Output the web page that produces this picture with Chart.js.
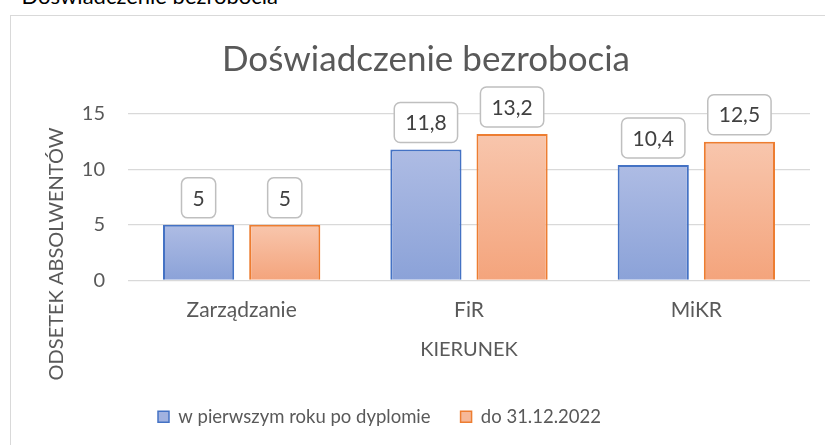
<!DOCTYPE html>
<html lang="pl">
<head>
<meta charset="utf-8">
<title>Doświadczenie bezrobocia</title>
<script src="https://cdn.jsdelivr.net/npm/chart.js@4"></script>
<style>
    html, body { margin: 0; padding: 0; background: #fff; overflow: hidden; }
    body { width: 825px; height: 445px; position: relative; font-family: Lato, sans-serif; }
    .caption { position: absolute; left: 0; top: -18px; width: 278px; text-align: right; font-size: 22px; color: #000; white-space: nowrap; overflow: hidden; }
    .frame { position: absolute; left: 10px; top: 15px; width: 900px; height: 500px; border-top: 1.5px solid #d9d9d9; border-left: 1.5px solid #d9d9d9; }
    .chart-box { position: absolute; left: 0; top: 0; width: 825px; height: 445px; }
</style>
</head>
<body>
<div class="caption">Doświadczenie bezrobocia</div>
<div class="frame"></div>
<div class="chart-box"><canvas id="unemploymentChart"></canvas></div>

<script>
// Chart data
const categories = ['Zarządzanie', 'FiR', 'MiKR'];
const seriesNames = ['w pierwszym roku po dyplomie', 'do 31.12.2022'];
const firstYearValues = [5, 11.8, 10.4];
const until2022Values = [5, 13.2, 12.5];
const yTickMin = 0;
const yTickMax = 15;
const yTickStep = 5;

const chartTitle = 'Doświadczenie bezrobocia';
const xAxisTitle = 'KIERUNEK';
const yAxisTitle = 'ODSETEK ABSOLWENTÓW';

const FONT = 'Lato, "Open Sans", sans-serif';
const TEXT_GREY = '#595959';

// top / bottom colours of each bar gradient
const barShades = [
    { top: '#aebce4', bottom: '#8ba2d8', border: '#4472c4', legend: '#a1b2e0' },
    { top: '#f8c6ad', bottom: '#f4a47c', border: '#ed7d31', legend: '#f6b898' }
];

function barGradient(shade) {
    return function (context) {
        const chart = context.chart;
        const y = chart.scales.y;
        if (!y || context.type !== 'data') return shade.legend;
        const top = y.getPixelForValue(context.raw);
        const bottom = y.getPixelForValue(0);
        if (!isFinite(top) || !isFinite(bottom) || top === bottom) return shade.legend;
        const g = chart.ctx.createLinearGradient(0, top, 0, bottom);
        g.addColorStop(0, shade.top);
        g.addColorStop(1, shade.bottom);
        return g;
    };
}

// Value labels in rounded boxes above each bar
const boxLabels = {
    id: 'boxLabels',
    afterDatasetsDraw(chart) {
        const ctx = chart.ctx;
        ctx.save();
        ctx.font = '21px ' + FONT;
        ctx.textAlign = 'center';
        ctx.textBaseline = 'middle';
        chart.data.datasets.forEach((ds, i) => {
            chart.getDatasetMeta(i).data.forEach((bar, j) => {
                const text = String(ds.data[j]).replace('.', ',');
                const w = ctx.measureText(text).width + 22;
                const h = 40;
                const x = bar.x - w / 2;
                const y = bar.y - 7 - h;
                ctx.beginPath();
                ctx.roundRect(x, y, w, h, 6);
                ctx.fillStyle = '#ffffff';
                ctx.fill();
                ctx.lineWidth = 1.5;
                ctx.strokeStyle = '#bfbfbf';
                ctx.stroke();
                ctx.fillStyle = '#404040';
                ctx.fillText(text, bar.x, y + h / 2 + 1);
            });
        });
        ctx.restore();
    }
};

// Vertical axis title, drawn beside the y scale
const sideTitle = {
    id: 'sideTitle',
    afterDraw(chart) {
        const ctx = chart.ctx;
        ctx.save();
        ctx.translate(57, 254);
        ctx.rotate(-Math.PI / 2);
        ctx.font = '20px ' + FONT;
        ctx.fillStyle = TEXT_GREY;
        ctx.textAlign = 'center';
        ctx.textBaseline = 'middle';
        ctx.fillText(yAxisTitle, 0, 0);
        ctx.restore();
    }
};

document.addEventListener('DOMContentLoaded', function () {
    const canvas = document.getElementById('unemploymentChart');

    new Chart(canvas, {
        type: 'bar',
        data: {
            labels: categories,
            datasets: [{
                label: seriesNames[0],
                data: firstYearValues,
                backgroundColor: barGradient(barShades[0]),
                borderColor: barShades[0].border,
                borderWidth: 2
            }, {
                label: seriesNames[1],
                data: until2022Values,
                backgroundColor: barGradient(barShades[1]),
                borderColor: barShades[1].border,
                borderWidth: 2
            }]
        },
        options: {
            responsive: true,
            maintainAspectRatio: false,
            animation: false,
            datasets: {
                bar: {
                    categoryPercentage: 0.758,
                    barPercentage: 0.826
                }
            },
            layout: {
                padding: { top: 15, left: 42, right: 15, bottom: 9 }
            },
            plugins: {
                title: {
                    display: true,
                    text: chartTitle,
                    color: TEXT_GREY,
                    font: { family: FONT, size: 35, weight: 'normal' },
                    padding: { top: 24, bottom: 33 }
                },
                legend: {
                    position: 'bottom',
                    align: 'start',
                    fullSize: false,
                    labels: {
                        boxWidth: 11,
                        boxHeight: 11,
                        padding: 30,
                        color: TEXT_GREY,
                        font: { family: FONT, size: 18.5 },
                        generateLabels: function (chart) {
                            const items = Chart.defaults.plugins.legend.labels.generateLabels(chart);
                            return items.map((item, i) => {
                                item.fillStyle = barShades[i].legend;
                                item.strokeStyle = barShades[i].border;
                                item.lineWidth = 1.5;
                                return item;
                            });
                        }
                    }
                },
                tooltip: { enabled: false }
            },
            scales: {
                x: {
                    grid: { display: false, drawTicks: false },
                    border: { display: false },
                    ticks: {
                        color: TEXT_GREY,
                        padding: 17,
                        font: { family: FONT, size: 21 }
                    },
                    title: {
                        display: true,
                        text: xAxisTitle,
                        color: TEXT_GREY,
                        font: { family: FONT, size: 20 },
                        padding: { top: -2, bottom: 16 }
                    }
                },
                y: {
                    min: yTickMin,
                    max: yTickMax,
                    afterFit: function (scale) {
                        scale.width = 86;
                    },
                    grid: { color: '#d9d9d9', lineWidth: 1.3, drawTicks: false },
                    border: { display: false },
                    ticks: {
                        stepSize: yTickStep,
                        color: TEXT_GREY,
                        padding: 23,
                        font: { family: FONT, size: 20 }
                    }
                }
            }
        },
        plugins: [boxLabels, sideTitle]
    });
});
</script>
</body>
</html>
